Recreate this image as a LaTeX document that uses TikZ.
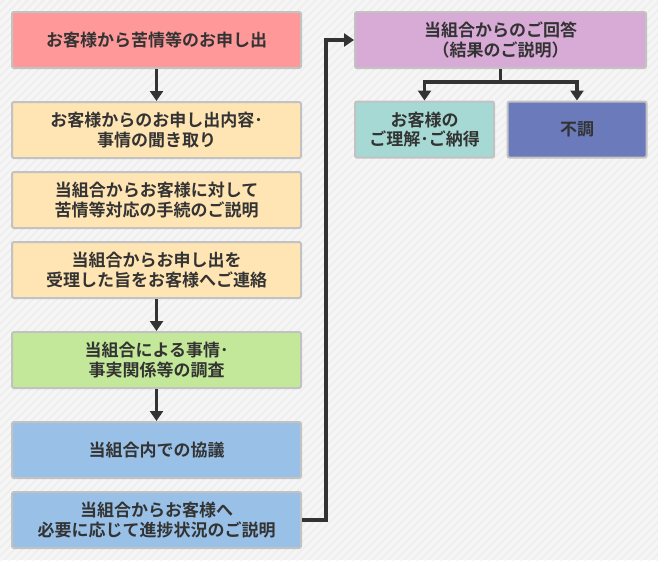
\documentclass[tikz,border=0pt]{standalone}
\usepackage{fontspec}
\newfontfamily\jpfont{Noto Sans CJK JP}[BoldFont={Noto Sans CJK JP Bold}]
\usetikzlibrary{positioning, arrows.meta}
\usepackage{xcolor}
\definecolor{bgpaper}{HTML}{EFEFEF}
\definecolor{bgstripe}{HTML}{F6F6F6}
\definecolor{frame}{HTML}{C2C2C2}
\definecolor{ink}{HTML}{333333}
\definecolor{salmon}{HTML}{FF9999}
\definecolor{cream}{HTML}{FFE5B4}
\definecolor{lime}{HTML}{C4E899}
\definecolor{sky}{HTML}{99C1E8}
\definecolor{orchid}{HTML}{D8ABD6}
\definecolor{mint}{HTML}{A6D9D3}
\definecolor{slate}{HTML}{6A7ABB}

\tikzset{
  stage/.style={draw=frame, line width=2pt, rounded corners=2pt, align=center,
    text=ink, inner sep=0pt, minimum height=56pt,
    font=\jpfont\bfseries\fontsize{17}{19.5}\selectfont},
  wide/.style={stage, minimum width=289pt},
  narrow/.style={stage, minimum width=139pt},
  flow/.style={->, ink, line width=3.5pt},
}

\begin{document}
\begin{tikzpicture}[>={Triangle[length=10pt,width=13pt]}, x=1pt, y=-1pt]
    % Background
    \useasboundingbox (0,0) rectangle (658,560);
    \fill[bgpaper] (0,0) rectangle (658,560);
    \begin{scope}
        \clip (0,0) rectangle (658,560);
        \foreach \k in {0,8,...,1240}
            \draw[bgstripe, line width=3pt] (\k-560,560) -- (\k,0);
    \end{scope}

    % Left column
    \node[wide, fill=salmon] (claim)   at (156.5,40)  {お客様から苦情等のお申し出};
    \node[wide, fill=cream]  (hearing) at (156.5,130) {お客様からのお申し出内容･\\事情の聞き取り};
    \node[wide, fill=cream]  (explain) at (156.5,200) {当組合からお客様に対して\\苦情等対応の手続のご説明};
    \node[wide, fill=cream]  (receipt) at (156.5,270) {当組合からお申し出を\\受理した旨をお客様へご連絡};
    \node[wide, fill=lime]   (survey)  at (156.5,360) {当組合による事情･\\事実関係等の調査};
    \node[wide, fill=sky]    (discuss) at (156.5,450) {当組合内での協議};
    \node[wide, fill=sky]    (progress) at (156.5,520) {当組合からお客様へ\\必要に応じて進捗状況のご説明};

    % Right column
    \node[stage, minimum width=291pt, fill=orchid] (answer) at (500.5,40) {当組合からのご回答\\（結果のご説明）};
    \node[narrow, fill=mint]  (agree)  at (424.5,129.5) {お客様の\\ご理解･ご納得};
    \node[narrow, fill=slate] (failed) at (577,129.5)   {不調};

    % Arrows
    \draw[flow] (claim) -- (hearing);
    \draw[flow] (receipt) -- (survey);
    \draw[flow] (survey) -- (discuss);
    \coordinate (turn) at (326,0);
    \draw[flow] (progress.east) -- (turn |- progress.east) -- (turn |- answer.west) -- (answer.west);
    \coordinate (fork) at (0,82);
    \draw[ink, line width=3.5pt] (answer.south) -- (answer.south |- fork);
    \draw[flow] (answer.south |- fork) -| (agree.north);
    \draw[flow] (answer.south |- fork) -| (failed.north);
\end{tikzpicture}
\end{document}
